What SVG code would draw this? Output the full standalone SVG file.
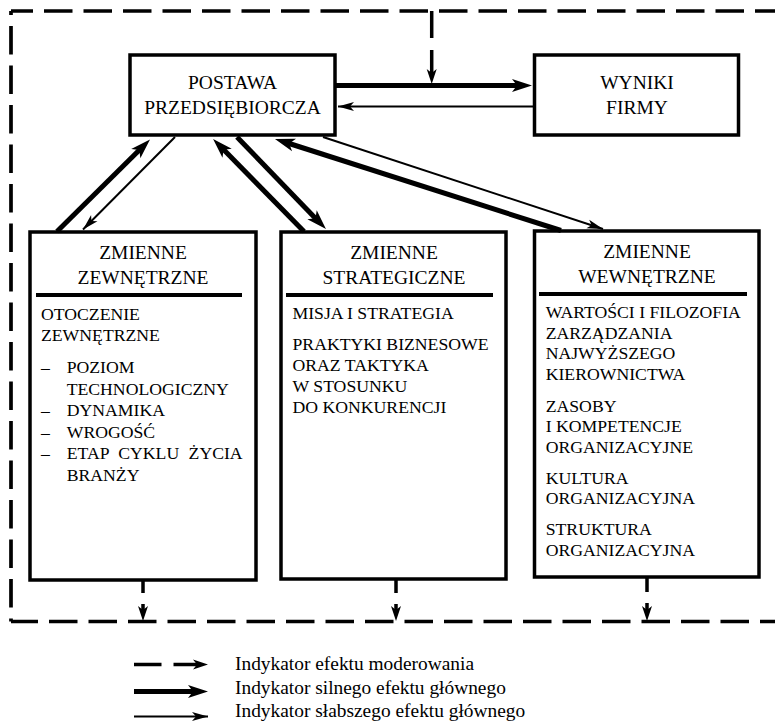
<svg xmlns="http://www.w3.org/2000/svg" width="775" height="726" viewBox="0 0 775 726">
  <style>
    text { font-family: "Liberation Serif", "Times New Roman", serif; fill: #000; }
    .hd { font-size: 19.5px; text-anchor: middle; }
    .bd { font-size: 17.7px; }
    .lg { font-size: 19.4px; }
    .box { fill: #fff; stroke: #000; stroke-width: 3.5; }
    .sep { stroke: #000; stroke-width: 4; fill: none; }
    .thick { stroke: #000; stroke-width: 5; fill: none; marker-end: url(#headThick); }
    .thin { stroke: #000; stroke-width: 2; fill: none; marker-end: url(#headThin); }
    .mod { stroke: #000; stroke-width: 3.7; fill: none; }
    .modArrow { stroke: #000; stroke-width: 3.5; fill: none; marker-end: url(#headMod); }
  </style>
  <defs>
    <marker id="headThick" markerUnits="userSpaceOnUse" markerWidth="22" markerHeight="14" refX="10" refY="6.5" orient="auto" overflow="visible">
      <path d="M0,0 L20,6.5 L0,13 L5,6.5 z" fill="#000"/>
    </marker>
    <marker id="headThin" markerUnits="userSpaceOnUse" markerWidth="17" markerHeight="10" refX="16" refY="4.5" orient="auto" overflow="visible">
      <path d="M0,0 L16,4.5 L0,9 L4,4.5 z" fill="#000"/>
    </marker>
    <marker id="headMod" markerUnits="userSpaceOnUse" markerWidth="16" markerHeight="11" refX="7" refY="5" orient="auto" overflow="visible">
      <path d="M0,0 L15,5 L0,10 L4,5 z" fill="#000"/>
    </marker>
  </defs>

  <!-- moderating frame (open on the right) -->
  <g id="frame">
    <path class="mod" d="M11,11 H780" stroke-dasharray="28.5 11" stroke-dashoffset="6.5"/>
    <path class="mod" d="M11,11 V621.5" stroke-dasharray="28.5 11" stroke-dashoffset="24.5"/>
    <path class="mod" d="M11,621.5 H780" stroke-dasharray="28.5 11" stroke-dashoffset="1.5"/>
  </g>

  <!-- nodes -->
  <g id="postawa">
    <rect class="box" x="130" y="55" width="205" height="80"/>
    <text class="hd" x="232.5" y="89">POSTAWA</text>
    <text class="hd" x="232.5" y="114">PRZEDSIĘBIORCZA</text>
  </g>

  <g id="wyniki">
    <rect class="box" x="534.5" y="55" width="204" height="80"/>
    <text class="hd" x="637" y="89">WYNIKI</text>
    <text class="hd" x="637" y="114">FIRMY</text>
  </g>

  <g id="zewnetrzne">
    <rect class="box" x="30" y="232" width="226" height="348"/>
    <text class="hd" x="143" y="259">ZMIENNE</text>
    <text class="hd" x="143" y="284">ZEWNĘTRZNE</text>
    <path class="sep" d="M36,295 H242"/>
    <text class="bd" x="41" y="320">OTOCZENIE</text>
    <text class="bd" x="41" y="341">ZEWNĘTRZNE</text>
    <text class="bd" x="41" y="373">–</text>
    <text class="bd" x="66.7" y="373">POZIOM</text>
    <text class="bd" x="66.7" y="394.5">TECHNOLOGICZNY</text>
    <text class="bd" x="41" y="416">–</text>
    <text class="bd" x="66.7" y="416">DYNAMIKA</text>
    <text class="bd" x="41" y="437.5">–</text>
    <text class="bd" x="66.7" y="437.5">WROGOŚĆ</text>
    <text class="bd" x="41" y="459">–</text>
    <text class="bd" x="66.7" y="459" word-spacing="5">ETAP CYKLU ŻYCIA</text>
    <text class="bd" x="66.7" y="480.5">BRANŻY</text>
  </g>

  <g id="strategiczne">
    <rect class="box" x="281" y="232" width="225" height="347"/>
    <text class="hd" x="394" y="259">ZMIENNE</text>
    <text class="hd" x="394" y="284">STRATEGICZNE</text>
    <path class="sep" d="M286,295 H493"/>
    <text class="bd" x="292.5" y="319">MISJA I STRATEGIA</text>
    <text class="bd" x="292.5" y="349.5">PRAKTYKI BIZNESOWE</text>
    <text class="bd" x="292.5" y="370.5">ORAZ TAKTYKA</text>
    <text class="bd" x="292.5" y="391.5">W STOSUNKU</text>
    <text class="bd" x="292.5" y="412.5">DO KONKURENCJI</text>
  </g>

  <g id="wewnetrzne">
    <rect class="box" x="534.5" y="231" width="224.5" height="346"/>
    <text class="hd" x="647" y="258">ZMIENNE</text>
    <text class="hd" x="647" y="283">WEWNĘTRZNE</text>
    <path class="sep" d="M539,294 H747"/>
    <text class="bd" x="545.7" y="318.3">WARTOŚCI I FILOZOFIA</text>
    <text class="bd" x="545.7" y="338.5">ZARZĄDZANIA</text>
    <text class="bd" x="545.7" y="358.7">NAJWYŻSZEGO</text>
    <text class="bd" x="545.7" y="379.5">KIEROWNICTWA</text>
    <text class="bd" x="545.7" y="411.7">ZASOBY</text>
    <text class="bd" x="545.7" y="432.3">I KOMPETENCJE</text>
    <text class="bd" x="545.7" y="452.7">ORGANIZACYJNE</text>
    <text class="bd" x="545.7" y="484">KULTURA</text>
    <text class="bd" x="545.7" y="504.3">ORGANIZACYJNA</text>
    <text class="bd" x="545.7" y="535">STRUKTURA</text>
    <text class="bd" x="545.7" y="556">ORGANIZACYJNA</text>
  </g>

  <!-- connectors -->
  <g id="connectors">
    <!-- main effects between attitude and results -->
    <path class="thick" d="M336,85.5 L522,85.5"/>
    <path class="thin" d="M533,106.5 L338,106.5"/>
    <!-- external variables -->
    <path class="thick" d="M57,231.5 L142.9,146.5"/>
    <path class="thin" d="M175,137 L83,229.5"/>
    <!-- strategic variables -->
    <path class="thick" d="M304,231.5 L220.1,146.1"/>
    <path class="thick" d="M237,137 L319,221.9"/>
    <!-- internal variables -->
    <path class="thick" d="M561,230.5 L284.5,142"/>
    <path class="thin" d="M323,137 L603,229"/>
    <!-- moderating links -->
    <path class="modArrow" d="M431.7,11 V76" stroke-dasharray="27 12"/>
    <path class="modArrow" d="M143,580 V613" stroke-dasharray="13 11"/>
    <path class="modArrow" d="M396,579 V613" stroke-dasharray="14 11"/>
    <path class="modArrow" d="M647,577 V613" stroke-dasharray="15 11"/>
  </g>

  <!-- legend -->
  <g id="legend">
    <path class="modArrow" d="M134,664.5 H200" stroke-dasharray="27.5 12"/>
    <path class="thick" d="M134,691.5 H198"/>
    <path class="thin" d="M134,716.5 H208"/>
    <text class="lg" x="235" y="670">Indykator efektu moderowania</text>
    <text class="lg" x="235" y="693.5">Indykator silnego efektu głównego</text>
    <text class="lg" x="235" y="717">Indykator słabszego efektu głównego</text>
  </g>
</svg>
